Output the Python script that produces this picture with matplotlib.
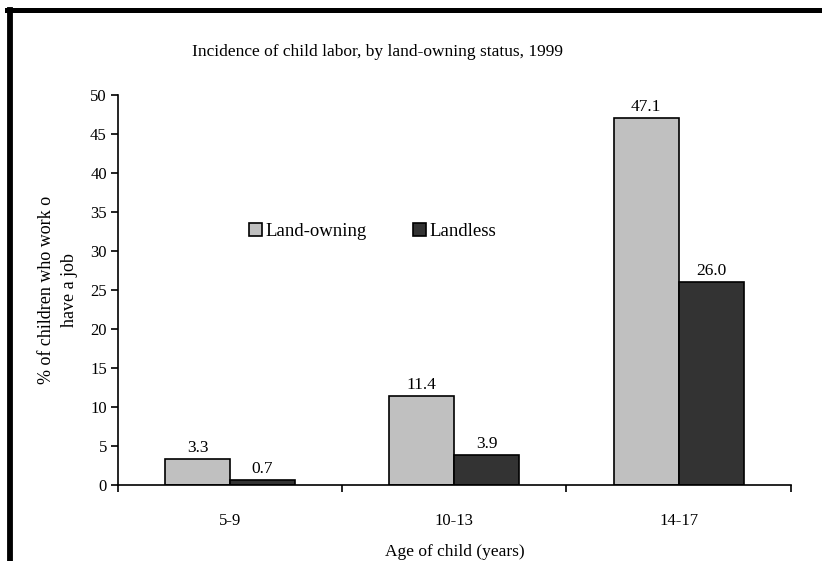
import matplotlib.pyplot as plt
from matplotlib.lines import Line2D
import numpy as np

plt.rcParams['font.family'] = ['Liberation Serif', 'DejaVu Serif']

ages = ["5-9", "10-13", "14-17"]
land_owning = [3.3, 11.4, 47.1]
landless = [0.7, 3.9, 26.0]
yticks = [0, 5, 10, 15, 20, 25, 30, 35, 40, 45, 50]

fig = plt.figure(figsize=(8.22, 5.61), dpi=100)
ax = fig.add_axes([0.1435, 0.1355, 0.8185, 0.6952])

x = np.arange(len(ages))
w = 0.29
b1 = ax.bar(x - w / 2, land_owning, w, color="#C0C0C0", edgecolor="black",
            linewidth=1.2, label="Land-owning")
b2 = ax.bar(x + w / 2, landless, w, color="#333333", edgecolor="black",
            linewidth=1.2, label="Landless")
ax.bar_label(b1, fmt="%.1f", padding=2, fontsize=12.5)
ax.bar_label(b2, fmt="%.1f", padding=2, fontsize=12.5)

ax.set_xlim(-0.5, 2.5)
ax.set_ylim(0, 50)
ax.set_yticks(yticks)
ax.set_xticks(x)
ax.set_xticklabels(ages)
ax.set_xticks([-0.5, 0.5, 1.5, 2.5], minor=True)
ax.tick_params(axis="x", which="major", length=0, pad=20, labelsize=12)
ax.tick_params(axis="x", which="minor", length=5, width=1.2, direction="out")
ax.tick_params(axis="y", length=5, width=1.2, direction="out", labelsize=12,
               pad=3)
for s in ["top", "right"]:
    ax.spines[s].set_visible(False)
for s in ["left", "bottom"]:
    ax.spines[s].set_linewidth(1.2)

fig.text(0.2336, 0.907, "Incidence of child labor, by land-owning status, 1999",
         fontsize=12.5, ha="left", va="center")
ax.set_xlabel("Age of child (years)", fontsize=12.5, labelpad=11)
ax.set_ylabel("% of children who work o\nhave a job", fontsize=13, labelpad=9,
              linespacing=1.45)

ax.legend(loc="center left", bbox_to_anchor=(0.195, 0.649), ncol=2, frameon=False,
          fontsize=13.5, handlelength=0.7, handleheight=0.7, handletextpad=0.15,
          columnspacing=2.5, borderpad=0, borderaxespad=0)

# thick frame on top and left
fig.add_artist(Line2D([0.009, 1.0], [0.983, 0.983], color="black", lw=3.6,
                      transform=fig.transFigure))
fig.add_artist(Line2D([0.0122, 0.0122], [0.0, 0.983], color="black", lw=4.2,
                      transform=fig.transFigure))

plt.savefig("out.png", dpi=100)
